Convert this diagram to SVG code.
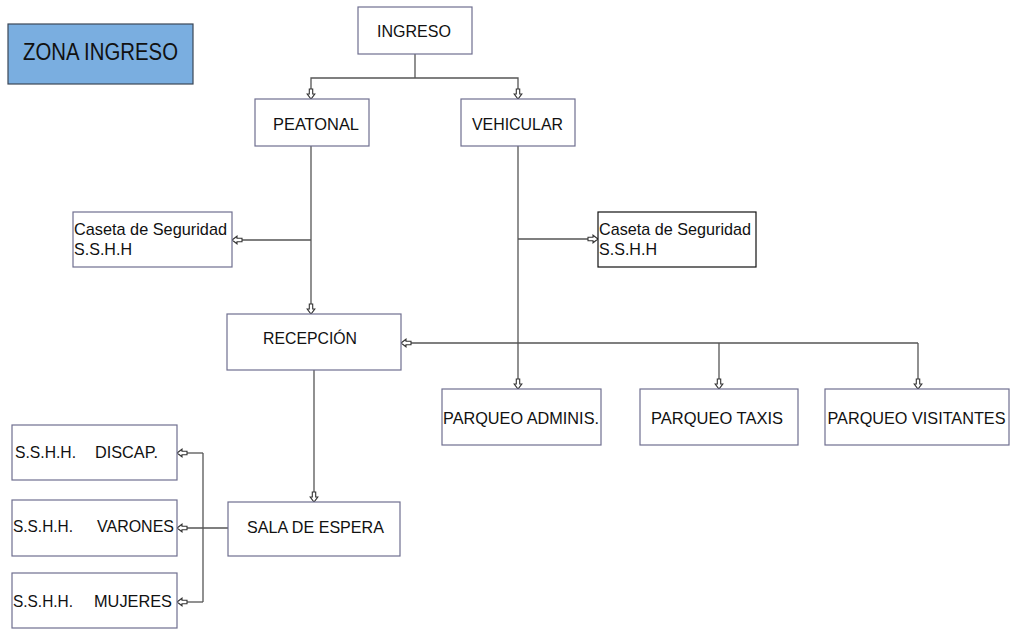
<svg xmlns="http://www.w3.org/2000/svg" width="1010" height="629" viewBox="0 0 1010 629">
<style>
.box{fill:#ffffff;stroke:#6f6f90;stroke-width:1.2}
.boxk{fill:#ffffff;stroke:#111111;stroke-width:1.2}
.zona{fill:#7aaee0;stroke:#3b4656;stroke-width:1.2}
.t{font-family:"Liberation Sans",Arial,sans-serif;font-size:17px;fill:#111111}
.tz{font-family:"Liberation Sans",Arial,sans-serif;font-size:23.5px;fill:#111111}
.c{fill:none;stroke:#555555;stroke-width:1.3}
.a{marker-end:url(#ar)}
</style>
<defs>
<marker id="ar" markerUnits="userSpaceOnUse" markerWidth="12" markerHeight="10" viewBox="-1 -5 12 10" refX="0" refY="0" orient="auto">
<path d="M0,-1.7 L5,-1.7 L5,-3.8 L10,0 L5,3.8 L5,1.7 L0,1.7 Z" fill="#ffffff" stroke="#333333" stroke-width="1.1"/>
</marker>
</defs>
<rect width="1010" height="629" fill="#ffffff"/>
<g id="connectors">
<path class="c" d="M415,54 V78"/>
<path class="c a" d="M415,78 H311 V89"/>
<path class="c a" d="M415,78 H518 V89"/>
<path class="c a" d="M311,146 V304"/>
<path class="c a" d="M311,240 H242"/>
<path class="c a" d="M518,146 V379"/>
<path class="c a" d="M518,239 H588"/>
<path class="c a" d="M918,343 H411"/>
<path class="c a" d="M918,343 V379"/>
<path class="c a" d="M719,343 V379"/>
<path class="c a" d="M314,370 V492"/>
<path class="c a" d="M228,528 H187"/>
<path class="c" d="M203,453 V602"/>
<path class="c a" d="M203,453 H187"/>
<path class="c a" d="M203,602 H187"/>
</g>
<g id="zona-ingreso">
<rect class="zona" x="8" y="24" width="185" height="60"/>
<text class="tz" x="23" y="60" textLength="155" lengthAdjust="spacingAndGlyphs">ZONA INGRESO</text>
</g>
<g id="ingreso">
<rect class="box" x="358" y="7" width="114" height="47"/>
<text class="t" x="377" y="37" textLength="74" lengthAdjust="spacingAndGlyphs">INGRESO</text>
</g>
<g id="peatonal">
<rect class="box" x="255" y="99" width="114" height="47"/>
<text class="t" x="273" y="130" textLength="86" lengthAdjust="spacingAndGlyphs">PEATONAL</text>
</g>
<g id="vehicular">
<rect class="box" x="461" y="99" width="114" height="47"/>
<text class="t" x="472" y="130" textLength="91" lengthAdjust="spacingAndGlyphs">VEHICULAR</text>
</g>
<g id="caseta-peatonal">
<rect class="box" x="73" y="212" width="159" height="55"/>
<text class="t" x="74" y="235" textLength="153" lengthAdjust="spacingAndGlyphs">Caseta de Seguridad</text>
<text class="t" x="74" y="255" textLength="58" lengthAdjust="spacingAndGlyphs">S.S.H.H</text>
</g>
<g id="caseta-vehicular">
<rect class="boxk" x="598" y="212" width="158" height="55"/>
<text class="t" x="599" y="235" textLength="152" lengthAdjust="spacingAndGlyphs">Caseta de Seguridad</text>
<text class="t" x="599" y="255" textLength="58" lengthAdjust="spacingAndGlyphs">S.S.H.H</text>
</g>
<g id="recepcion">
<rect class="box" x="227" y="314" width="174" height="56"/>
<text class="t" x="263" y="344" textLength="94" lengthAdjust="spacingAndGlyphs">RECEPCIÓN</text>
</g>
<g id="parqueo-adminis">
<rect class="box" x="442" y="389" width="159" height="56"/>
<text class="t" x="443" y="424" textLength="156" lengthAdjust="spacingAndGlyphs">PARQUEO ADMINIS.</text>
</g>
<g id="parqueo-taxis">
<rect class="box" x="640" y="389" width="158" height="56"/>
<text class="t" x="651" y="424" textLength="132" lengthAdjust="spacingAndGlyphs">PARQUEO TAXIS</text>
</g>
<g id="parqueo-visitantes">
<rect class="box" x="825" y="389" width="184" height="56"/>
<text class="t" x="827.5" y="424" textLength="178" lengthAdjust="spacingAndGlyphs">PARQUEO VISITANTES</text>
</g>
<g id="sala-espera">
<rect class="box" x="228" y="502" width="172" height="54"/>
<text class="t" x="247" y="533" textLength="137" lengthAdjust="spacingAndGlyphs">SALA DE ESPERA</text>
</g>
<g id="sshh-discap">
<rect class="box" x="12" y="425" width="165" height="55"/>
<text class="t" x="15" y="458" textLength="61" lengthAdjust="spacingAndGlyphs">S.S.H.H.</text>
<text class="t" x="95" y="458" textLength="63" lengthAdjust="spacingAndGlyphs">DISCAP.</text>
</g>
<g id="sshh-varones">
<rect class="box" x="12" y="500" width="165" height="56"/>
<text class="t" x="13" y="532" textLength="60" lengthAdjust="spacingAndGlyphs">S.S.H.H.</text>
<text class="t" x="97" y="532" textLength="77" lengthAdjust="spacingAndGlyphs">VARONES</text>
</g>
<g id="sshh-mujeres">
<rect class="box" x="12" y="573" width="165" height="55"/>
<text class="t" x="13" y="607" textLength="60" lengthAdjust="spacingAndGlyphs">S.S.H.H.</text>
<text class="t" x="94" y="607" textLength="78" lengthAdjust="spacingAndGlyphs">MUJERES</text>
</g>
</svg>
